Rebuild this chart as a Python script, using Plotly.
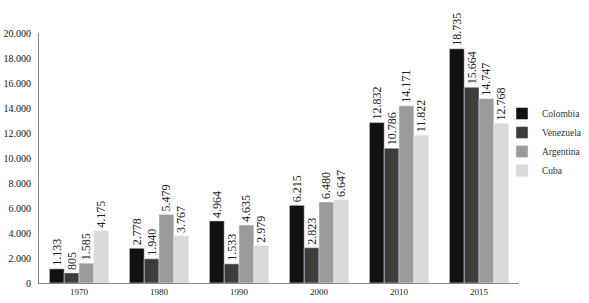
import plotly.graph_objects as go

years = ["1970", "1980", "1990", "2000", "2010", "2015"]
colombia = [1133, 2778, 4964, 6215, 12832, 18735]
venezuela = [805, 1940, 1533, 2823, 10786, 15664]
argentina = [1585, 5479, 4635, 6480, 14171, 14747]
cuba = [4175, 3767, 2979, 6647, 11822, 12768]

series = [
    ("Colombia", colombia, "#111111"),
    ("Venezuela", venezuela, "#3d3d3d"),
    ("Argentina", argentina, "#9a9a9a"),
    ("Cuba", cuba, "#d9d9d9"),
]

fig = go.Figure()
for name, vals, col in series:
    fig.add_trace(go.Bar(
        x=years, y=vals, name=name, marker_color=col,
        text=vals, texttemplate="%{y:,}", textposition="outside",
        textangle=-90, constraintext="none", cliponaxis=False,
        textfont=dict(family="Liberation Serif", size=12, color="#222"),
    ))

W_PLOT = 589 - 39 - 5
fig.update_layout(
    width=589, height=303,
    margin=dict(l=39, r=5, t=33, b=20, autoexpand=False),
    paper_bgcolor="white", plot_bgcolor="white",
    separators=",.",
    barmode="group", bargap=0.26, bargroupgap=0,
    font=dict(family="Liberation Serif", size=10, color="#222"),
    showlegend=True,
    legend=dict(x=(502 - 39) / W_PLOT, y=0.564,
                xanchor="left", yanchor="middle",
                font=dict(family="Liberation Serif", size=9.5, color="#333"),
                itemwidth=30, tracegroupgap=0, bgcolor="rgba(0,0,0,0)"),
    xaxis=dict(domain=[0, 480 / W_PLOT], showline=True, linecolor="#888",
               linewidth=1, ticks="", tickfont=dict(size=9)),
    yaxis=dict(range=[0, 20000], dtick=2000, tickformat=",", showgrid=False,
               showline=True, linecolor="#888", linewidth=1, ticks="",
               ticklabelstandoff=5,
               zeroline=False, tickfont=dict(size=10, color="#111")),
)

fig.write_html(
    "out.html",
    config={"displayModeBar": False},
    post_script="document.body.style.margin='0';document.body.style.overflow='hidden';",
)
